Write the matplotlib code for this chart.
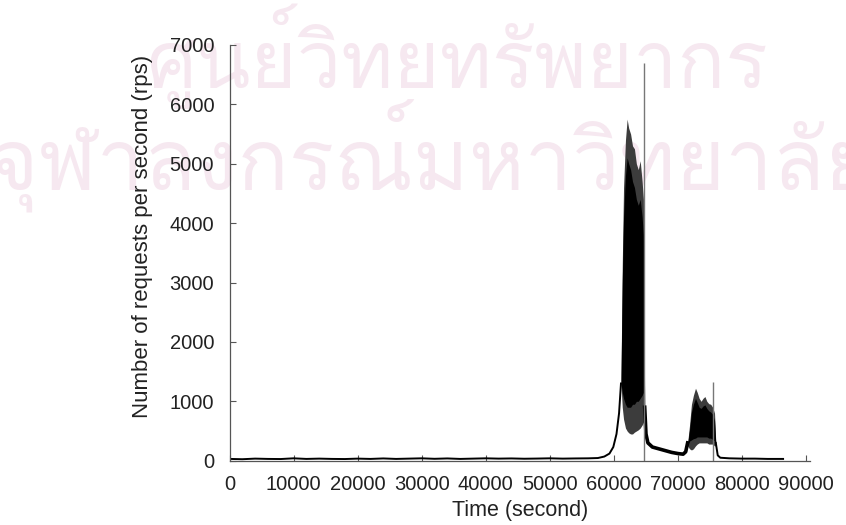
import matplotlib
matplotlib.use('Agg')
import matplotlib.pyplot as plt
from matplotlib import font_manager
from matplotlib.ft2font import FT2Font

# quiet period before the first burst (time in s, requests per second)
quiet_t = [0, 2000, 4000, 6000, 8000, 10000, 12000, 14000, 16000, 18000,
           20000, 22000, 24000, 26000, 28000, 30000, 32000, 34000, 36000,
           38000, 40000, 42000, 44000, 46000, 48000, 50000, 52000, 54000,
           56000, 57500, 58500, 59300, 59900, 60400, 60800, 61100]
quiet_v = [30, 25, 35, 30, 28, 40, 30, 35, 30, 28, 35, 30, 38, 30, 35, 40,
           32, 38, 30, 35, 40, 35, 38, 33, 36, 40, 35, 38, 40, 45, 70, 120,
           230, 450, 800, 1300]

# first burst: outer range and dense core
burst1_t = [61100, 61300, 61500, 61800, 62060, 62300, 62600, 62900, 63200,
            63500, 63800, 64100, 64400, 64600, 64800]
burst1_hi = [1400, 3300, 4600, 5400, 5750, 5600, 5500, 5300, 5250, 5000,
             4900, 5050, 4700, 4400, 900]
burst1_lo = [1300, 900, 700, 550, 500, 470, 450, 450, 480, 500, 520, 550,
             600, 650, 800]
burst1_core_hi = [1350, 3000, 4100, 4800, 5100, 5000, 4900, 4700, 4600,
                  4400, 4300, 4400, 4100, 3800, 850]
burst1_core_lo = [1300, 1150, 1050, 950, 900, 900, 900, 950, 950, 1000,
                  1000, 1050, 1100, 1150, 820]

# level between the two bursts
between_t = [64800, 65000, 65300, 66000, 67000, 68000, 69000, 70000, 70800,
             71200, 71500]
between_v = [900, 450, 300, 230, 200, 170, 140, 120, 110, 150, 300]

# second burst
burst2_t = [71500, 71800, 72100, 72400, 72730, 73000, 73300, 73600, 73900,
            74200, 74500, 74800, 75100, 75400, 75700, 75900]
burst2_hi = [300, 600, 950, 1100, 1220, 1150, 1050, 1000, 1050, 1080, 1000,
             960, 950, 900, 800, 300]
burst2_lo = [250, 200, 180, 200, 250, 280, 300, 300, 300, 300, 300, 280,
             280, 280, 250, 250]
burst2_core_hi = [280, 520, 820, 950, 1050, 980, 900, 880, 920, 940, 880,
                  840, 820, 780, 680, 280]
burst2_core_lo = [260, 330, 350, 370, 380, 400, 400, 400, 400, 400, 400,
                  380, 380, 360, 330, 260]

# rest of the day
late_t = [75900, 76200, 76600, 78000, 80000, 82000, 84000, 86400]
late_v = [300, 90, 50, 40, 35, 35, 30, 30]

# single-second spikes
spike_t = [64660, 75440]
spike_v = [6700, 1330]

x_ticks = list(range(0, 90001, 10000))
y_ticks = list(range(0, 7001, 1000))

watermark = ['ศูนย์วิทยทรัพยากร', 'จุฬาลงกรณ์มหาวิทยาลัย']


def thai_family():
    for f in font_manager.fontManager.ttflist:
        try:
            if 0x0E28 in FT2Font(f.fname).get_charmap():
                return f.name
        except Exception:
            pass
    return None


plt.rcParams['font.family'] = ['Liberation Sans', 'DejaVu Sans']

fig = plt.figure(figsize=(8.46, 5.25), dpi=100)
W, H = 846, 525
x0, x1, y0, y1 = 229.5, 810.0, 460.7, 44.9
ax = fig.add_axes([x0 / W, 1 - y0 / H, (x1 - x0) / W, (y0 - y1) / H])

# pale library stamp, kept underneath the axes and labels
fam = thai_family()
if fam is not None:
    fig.text(457 / W, 1 - 56 / H, watermark[0], family=fam, fontsize=57,
             color='#f6e8f0', ha='center', va='center', zorder=-5)
    fig.text(432 / W, 1 - 155 / H, watermark[1], family=fam, fontsize=61,
             color='#f6e8f0', ha='center', va='center', zorder=-5)
ax.patch.set_alpha(0)

ax.plot(quiet_t, quiet_v, color='black', lw=1.4)
ax.plot(between_t, between_v, color='black', lw=2.6)
ax.plot(late_t, late_v, color='black', lw=1.4)

ax.fill_between(burst1_t, burst1_lo, burst1_hi, color='#3c3c3c', lw=0)
ax.fill_between(burst1_t, burst1_core_lo, burst1_core_hi, color='black', lw=0)
ax.fill_between(burst2_t, burst2_lo, burst2_hi, color='#3c3c3c', lw=0)
ax.fill_between(burst2_t, burst2_core_lo, burst2_core_hi, color='black', lw=0)
ax.vlines(spike_t, 0, spike_v, color='#777777', lw=1.0)

ax.set_xlim(0, 90600)
ax.set_ylim(0, 7000)
ax.set_xticks(x_ticks)
ax.set_yticks(y_ticks)
ax.tick_params(direction='in', length=4, width=0.8, color='#555555',
               labelsize=14.5, labelcolor='#222222')
ax.tick_params(axis='x', pad=10.5)
ax.tick_params(axis='y', pad=11)
for side in ['top', 'right']:
    ax.spines[side].set_visible(False)
for side in ['left', 'bottom']:
    ax.spines[side].set_color('#555555')
    ax.spines[side].set_linewidth(0.9)

ax.set_xlabel('Time (second)', fontsize=15.5, color='#222222', labelpad=4)
ax.set_ylabel('Number of requests per second (rps)', fontsize=16,
              color='#222222')
ax.yaxis.set_label_coords(-0.132, 0.539)

fig.savefig('out.png', dpi=100)
